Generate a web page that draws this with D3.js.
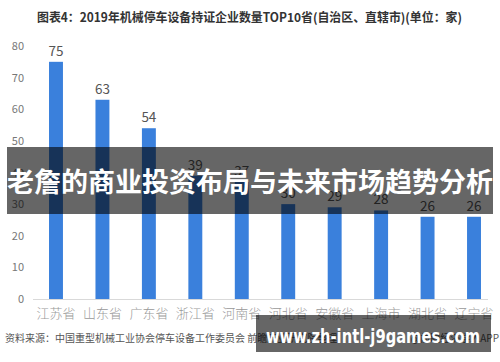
<!DOCTYPE html>
<html><head><meta charset="utf-8">
<script src="https://cdn.jsdelivr.net/npm/d3@7"></script>
<style>body{margin:0;background:#fff}svg{display:block}</style>
</head><body>
<script>
const categories = ["江苏省","山东省","广东省","浙江省","河南省","河北省","安徽省","上海市","湖北省","辽宁省"];
const values = [75,63,54,39,37,30,29,28,26,26];
const yTicks = [0,10,20,30,40,50,60,70,80];
const titleText = "图表4：2019年机械停车设备持证企业数量TOP10省(自治区、直辖市)(单位：家)";
const sourceParts = ["资料来源：中国重型机械工业协会停车设备工作委员会 前瞻产业研究院整理", " @前瞻经济学人APP"];
const bannerText = "老詹的商业投资布局与未来市场趋势分析";
const urlText = "www.zh-intl-j9games.com";

const W = 500, H = 362;
const svg = d3.select("body").append("svg").attr("width", W).attr("height", H);
const cjk = "'Noto Sans CJK SC','Noto Sans',sans-serif";

const x = d3.scaleBand().domain(categories).range([33, 497]).paddingInner(0.7).paddingOuter(0.345);
const y = d3.scaleLinear().domain([0, 80]).range([299, 46]);

// title
svg.append("text").attr("x", 37).attr("y", 22)
  .attr("font-family", cjk).attr("font-weight", "bold").attr("font-size", 12.5)
  .attr("textLength", 425).attr("lengthAdjust", "spacingAndGlyphs")
  .attr("fill", "#333").text(titleText);

// y tick labels
svg.append("g").selectAll("text").data(yTicks).join("text")
  .attr("x", 24).attr("y", d => y(d) + 4).attr("text-anchor", "end")
  .attr("font-family", cjk).attr("font-size", 11).attr("fill", "#777").text(d => d);

// baseline axis
svg.append("line").attr("x1", 33).attr("x2", 488).attr("y1", y(0) + 0.5).attr("y2", y(0) + 0.5)
  .attr("stroke", "#d9d9d9").attr("stroke-width", 1);

// bars
svg.append("g").selectAll("rect").data(values).join("rect")
  .attr("x", (d, i) => x(categories[i])).attr("width", x.bandwidth())
  .attr("y", d => y(d)).attr("height", d => y(0) - y(d)).attr("fill", "#3a80dc");

// value labels
svg.append("g").selectAll("text").data(values).join("text")
  .attr("x", (d, i) => x(categories[i]) + x.bandwidth() / 2).attr("y", d => y(d) - 6)
  .attr("text-anchor", "middle").attr("font-family", cjk).attr("font-size", 13.5)
  .attr("fill", "#555").text(d => d);

// category labels
svg.append("g").selectAll("text").data(categories).join("text")
  .attr("x", d => x(d) + x.bandwidth() / 2).attr("y", 318)
  .attr("text-anchor", "middle").attr("font-family", cjk).attr("font-size", 13)
  .attr("font-weight", 300).attr("fill", "#999").text(d => d);

// source
const src = svg.append("text").attr("y", 342).attr("font-family", cjk).attr("font-size", 10)
  .attr("fill", "#555");
src.append("tspan").attr("x", 5).text(sourceParts[0]);
src.append("tspan").attr("x", 499).attr("text-anchor", "end").text(sourceParts[1]);

// overlay banner
svg.append("rect").attr("x", 7).attr("y", 147).attr("width", 486).attr("height", 67)
  .attr("fill", "#000").attr("opacity", 0.6);
svg.append("text").attr("x", 250).attr("y", 192).attr("text-anchor", "middle")
  .attr("font-family", cjk).attr("font-weight", "bold").attr("font-size", 27)
  .attr("fill", "#fff").text(bannerText);

// url banner
svg.append("rect").attr("x", 256).attr("y", 315).attr("width", 235).attr("height", 37)
  .attr("fill", "#000").attr("opacity", 0.6);
svg.append("text").attr("x", 373).attr("y", 343).attr("text-anchor", "middle")
  .attr("font-family", "'DejaVu Sans',sans-serif").attr("font-weight", "bold").attr("font-size", 20)
  .attr("textLength", 214).attr("lengthAdjust", "spacingAndGlyphs")
  .attr("fill", "#fff").text(urlText);
</script>
</body></html>
